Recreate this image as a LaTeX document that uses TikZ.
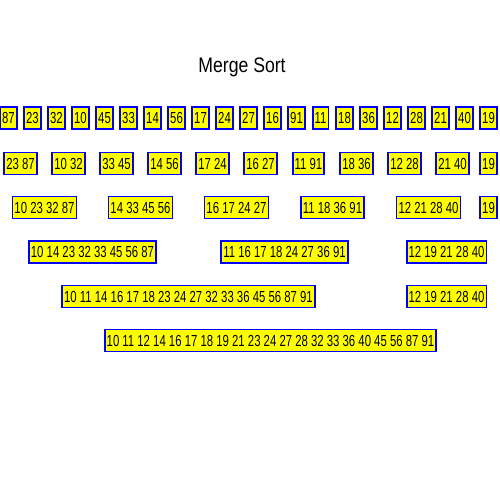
\documentclass[tikz,border=0pt]{standalone}
\usepackage{fontspec}
\setmainfont{Liberation Sans}
\newfontfamily\numfont[FakeStretch=0.71]{Liberation Sans}
\newfontfamily\titlefont[FakeStretch=0.84]{Liberation Sans}
\definecolor{boxblue}{RGB}{0,0,255}
\definecolor{boxyellow}{RGB}{255,255,0}
\tikzset{
  sortbox/.style={draw=boxblue, fill=boxyellow, line width=1.8pt,
    inner xsep=2pt, inner ysep=0pt, minimum height=22pt,
    font=\numfont\fontsize{16}{16}\selectfont, text=black},
  titletext/.style={font=\titlefont\fontsize{21}{21}\selectfont, text=black, anchor=base, inner sep=0pt}
}
\begin{document}
\begin{tikzpicture}[x=1pt,y=-1pt]
\useasboundingbox[fill=white] (0,0) rectangle (500,500);
\node[titletext] (title) at (242,73) {Merge Sort};
% row 1
\foreach \v [count=\i from 0] in {87,23,32,10,45,33,14,56,17,24,27,16,91,11,18,36,12,28,21,40,19}
  \node[sortbox] (ra\i) at ({8.5+24*\i},118) {\v};
% row 2
\foreach \v [count=\i from 0] in {23 87,10 32,33 45,14 56,17 24,16 27,11 91,18 36,12 28,21 40}
  \node[sortbox] (rb\i) at ({20.5+48*\i},163.5) {\v};
\node[sortbox] (rb10) at (488.5,163.5) {19};
% row 3
\foreach \v [count=\i from 0] in {10 23 32 87,14 33 45 56,16 17 24 27,11 18 36 91,12 21 28 40}
  \node[sortbox] (rc\i) at ({44.5+96*\i},207.5) {\v};
\node[sortbox] (rc5) at (488.5,207.5) {19};
% row 4
\node[sortbox] (rd0) at (92.5,252) {10 14 23 32 33 45 56 87};
\node[sortbox] (rd1) at (284.5,252) {11 16 17 18 24 27 36 91};
\node[sortbox] (rd2) at (446.5,252) {12 19 21 28 40};
% row 5
\node[sortbox] (re0) at (188.5,296.5) {10 11 14 16 17 18 23 24 27 32 33 36 45 56 87 91};
\node[sortbox] (re1) at (446.5,296.5) {12 19 21 28 40};
% row 6
\node[sortbox] (rf0) at (270.5,340.5) {10 11 12 14 16 17 18 19 21 23 24 27 28 32 33 36 40 45 56 87 91};
\end{tikzpicture}
\end{document}
